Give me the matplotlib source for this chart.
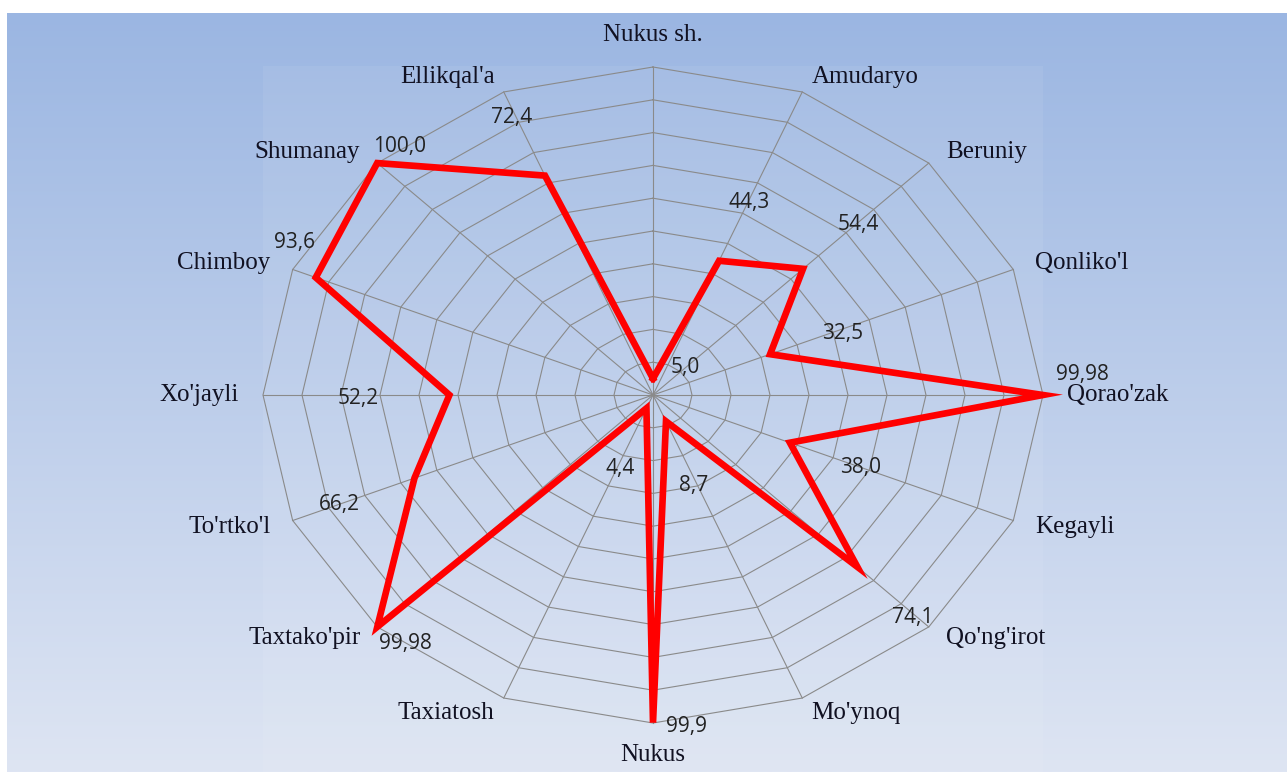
import numpy as np
import matplotlib
matplotlib.use("Agg")
import matplotlib.pyplot as plt
from matplotlib.patches import Rectangle

# ---------- data ----------
districts = ["Nukus sh.", "Amudaryo", "Beruniy", "Qonliko'l", "Qorao'zak", "Kegayli",
             "Qo'ng'irot", "Mo'ynoq", "Nukus", "Taxiatosh", "Taxtako'pir", "To'rtko'l",
             "Xo'jayli", "Chimboy", "Shumanay", "Ellikqal'a"]
values = [5.0, 44.3, 54.4, 32.5, 99.98, 38.0, 74.1, 8.7, 99.9, 4.4, 99.98, 66.2,
          52.2, 93.6, 100.0, 72.4]
value_text = ["5,0", "44,3", "54,4", "32,5", "99,98", "38,0", "74,1", "8,7", "99,9", "4,4",
              "99,98", "66,2", "52,2", "93,6", "100,0", "72,4"]
rings = [10, 20, 30, 40, 50, 60, 70, 80, 90, 100]

# value label spots (data units, x/y in the chart frame)
label_x = [8.2, 24.6, 52.6, 48.7, 110.0, 53.1, 66.7, 10.3, 8.7, -8.5, -63.6, -80.3, -75.6, -91.8, -65.1, -36.2]
label_y = [8.5, 58.8, 52.1, 18.6, 6.1, -22.0, -67.7, -27.7, -101.2, -22.3, -75.9, -33.5, -1.2, 46.6, 75.9, 84.5]

# ---------- geometry ----------
W, H = 1287, 772
cx, cy = 653, 395          # centre in pixels
sx, sy = 3.9, 3.28         # pixels per unit (chart is stretched horizontally)

n = len(districts)
theta = np.arange(n) * 2 * np.pi / n
sin_t, cos_t = np.sin(theta), np.cos(theta)

fig = plt.figure(figsize=(W / 100, H / 100), dpi=100)
fig.patch.set_facecolor("white")

# gradient background
bg = fig.add_axes([7 / W, 0, 1 - 7 / W, (H - 13) / H])
top = np.array([155, 182, 226]) / 255
bot = np.array([222, 229, 243]) / 255
t = np.linspace(0, 1, 256)[:, None]
grad = top[None, :] * (1 - t) + bot[None, :] * t
bg.imshow(grad[:, None, :], aspect="auto", extent=[0, 1, 0, 1])
bg.axis("off")

ax = fig.add_axes([0, 0, 1, 1])
ax.patch.set_alpha(0)
ax.set_xlim(-cx / sx, (W - cx) / sx)
ax.set_ylim(-(H - cy) / sy, cy / sy)
ax.axis("off")

# slightly lighter plot area
ax.add_patch(Rectangle((-100, -120), 200, 220.3, facecolor="white", alpha=0.07, edgecolor="none"))

# grid rings + spokes
for r in rings:
    xs = np.append(r * sin_t, r * sin_t[0])
    ys = np.append(r * cos_t, r * cos_t[0])
    ax.plot(xs, ys, color="#8a8a8a", lw=0.8, zorder=2)
for s, c in zip(sin_t, cos_t):
    ax.plot([0, 100 * s], [0, 100 * c], color="#8a8a8a", lw=0.8, zorder=2)

# data line
v = np.array(values)
px = np.append(v * sin_t, v[0] * sin_t[0])
py = np.append(v * cos_t, v[0] * cos_t[0])
ax.plot(px, py, color="#ff0000", lw=4.8, solid_joinstyle="miter", zorder=4)

# value labels
for txt, lx, ly in zip(value_text, label_x, label_y):
    ax.text(lx, ly, txt, fontsize=15, family="Open Sans", color="#222222",
            ha="center", va="center", zorder=5)

# category labels
for name, s, c in zip(districts, sin_t, cos_t):
    if s > 0.1:
        ha = "left"
    elif s < -0.1:
        ha = "right"
    else:
        ha = "center"
    if c > 0.95:
        va = "bottom"
    elif c < -0.95:
        va = "top"
    else:
        va = "center"
    pad_y = 21 if abs(c) > 0.95 else 16
    dx = 24 * s * 0.72
    dy = pad_y * c * 0.72
    ax.annotate(name, xy=(100 * s, 100 * c), xytext=(dx, dy), textcoords="offset points",
                ha=ha, va=va, fontsize=18, family="Liberation Serif", color="#111122", zorder=5)

fig.savefig("out.png", dpi=100)
